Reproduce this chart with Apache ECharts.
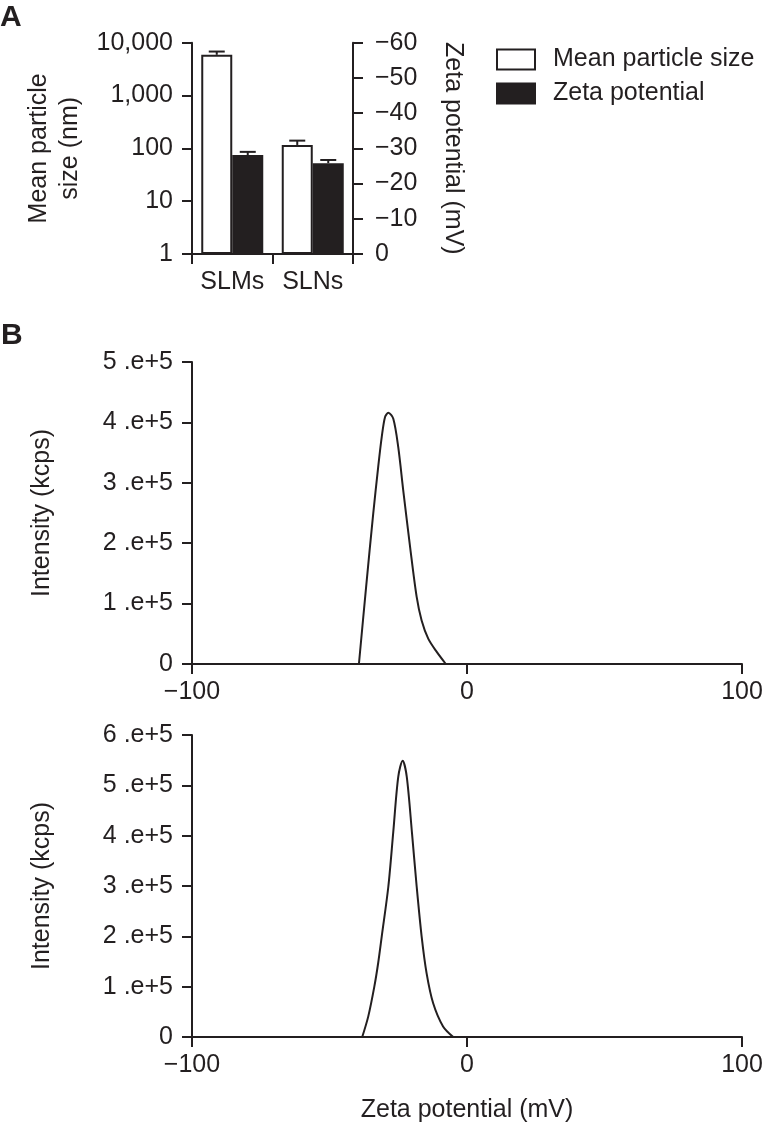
<!DOCTYPE html>
<html>
<head>
<meta charset="utf-8">
<script src="https://cdn.jsdelivr.net/npm/echarts@6/dist/echarts.min.js"></script>
<style>
html,body{margin:0;padding:0;background:#fff;}
#chart{width:766px;height:1132px;}
</style>
</head>
<body>
<div id="chart"></div>
<script>
// ---- Panel A data ----
const categories = ['SLMs', 'SLNs'];
const sizeMean = [5900, 116];          // nm
const sizeUpper = [6800, 140];         // top of error bar, nm
const zetaMean = [-28.1, -25.8];       // mV
const zetaUpper = [-29.0, -26.7];      // top of error bar, mV
const seriesNames = ['Mean particle size', 'Zeta potential'];

// ---- Panel B data ----
const zeta1 = [-39.3, -36.7, -34.1, -32.3, -31.0, -29.8, -28.6, -26.8, -25.0, -23.2, -20.7, -18.3, -16.5, -14.1, -11.0, -7.7];
const intensity1 = [0, 127000, 249000, 326000, 376000, 409000, 416000, 406000, 359000, 288000, 194000, 111000, 72000, 42000, 20000, 0];
const zeta2 = [-38.1, -35.9, -33.7, -32.3, -31.0, -28.6, -26.8, -25.0, -23.4, -21.9, -20.0, -18.3, -16.5, -14.7, -12.3, -8.7, -5.0];
const intensity2 = [0, 41000, 100000, 147000, 200000, 299000, 408000, 517000, 549000, 517000, 405000, 299000, 200000, 127000, 67000, 21000, 0];

const C = '#231f20';
const FONT = '"Liberation Sans", Arial, sans-serif';
const FS = 25;
const BARW = 31;

function pairs(xs, ys) { return xs.map((x, i) => [x, ys[i]]); }

function errRender(side) {
  return function (params, api) {
    const i = api.value(0);
    const p0 = api.coord([i, api.value(1)]);
    const p1 = api.coord([i, api.value(2)]);
    const x = p0[0] + side * BARW / 2;
    const st = { stroke: C, lineWidth: 2 };
    return {
      type: 'group',
      children: [
        { type: 'line', shape: { x1: x, y1: p0[1], x2: x, y2: p1[1] }, style: st },
        { type: 'line', shape: { x1: x - 8, y1: p1[1], x2: x + 8, y2: p1[1] }, style: st }
      ]
    };
  };
}

const axisLine = { show: true, onZero: false, lineStyle: { color: C, width: 2 } };
const axisTick = { show: true, length: 10, lineStyle: { color: C, width: 2 } };
const lbl = (extra) => Object.assign({ color: C, fontSize: FS, fontFamily: FONT }, extra);
const nameStyle = { color: C, fontSize: FS, fontFamily: FONT, lineHeight: 31 };
const minus = v => (v < 0 ? '\u2212' + Math.abs(v) : String(v));
const sci = v => (v === 0 ? '0' : (v / 100000) + ' .e+5');

const chart = echarts.init(document.getElementById('chart'), null, { renderer: 'canvas' });
chart.setOption({
  backgroundColor: '#fff',
  animation: false,
  textStyle: { fontFamily: FONT },
  graphic: [
    { type: 'text', left: 0, top: 3, style: { text: 'A', fill: C, font: 'bold 30px ' + FONT } },
    { type: 'text', left: 1, top: 321, style: { text: 'B', fill: C, font: 'bold 30px ' + FONT } }
  ],
  legend: {
    left: 491, top: 42, orient: 'vertical', itemWidth: 38, itemHeight: 20, itemGap: 9,
    icon: 'rect', data: seriesNames,
    textStyle: { color: C, fontSize: FS, fontFamily: FONT, padding: [0, 0, 0, 13] }
  },
  grid: [
    { left: 192, top: 42.7, width: 161, height: 211.3 },
    { left: 192, top: 362, width: 550, height: 302 },
    { left: 192, top: 735, width: 550, height: 302 }
  ],
  xAxis: [
    { gridIndex: 0, type: 'category', data: categories, axisLine, axisTick,
      axisLabel: lbl({ margin: 16, interval: 0, hideOverlap: false }) },
    { gridIndex: 1, type: 'value', min: -100, max: 100, interval: 100, splitLine: { show: false },
      axisLine, axisTick, axisLabel: lbl({ margin: 16, formatter: minus }) },
    { gridIndex: 2, type: 'value', min: -100, max: 100, interval: 100, splitLine: { show: false },
      axisLine, axisTick, axisLabel: lbl({ margin: 16, formatter: minus }),
      name: 'Zeta potential (mV)', nameLocation: 'middle', nameGap: 58, nameTextStyle: nameStyle }
  ],
  yAxis: [
    { gridIndex: 0, type: 'log', logBase: 10, min: 1, max: 10000, position: 'left', splitLine: { show: false },
      axisLine, axisTick, minorTick: { show: false },
      axisLabel: lbl({ margin: 19, formatter: v => Number(v).toLocaleString('en-US') }),
      name: 'Mean particle\nsize (nm)', nameLocation: 'middle', nameGap: 106, nameTextStyle: nameStyle },
    { gridIndex: 0, type: 'value', min: -60, max: 0, interval: 10, inverse: true, position: 'right', splitLine: { show: false },
      axisLine, axisTick, axisLabel: lbl({ margin: 22, formatter: minus }),
      name: 'Zeta potential (mV)', nameLocation: 'middle', nameRotate: -90, nameGap: 84, nameTextStyle: nameStyle },
    { gridIndex: 1, type: 'value', min: 0, max: 500000, interval: 100000, splitLine: { show: false },
      axisLine, axisTick, axisLabel: lbl({ margin: 19, formatter: sci }),
      name: 'Intensity (kcps)', nameLocation: 'middle', nameGap: 134, nameTextStyle: nameStyle },
    { gridIndex: 2, type: 'value', min: 0, max: 600000, interval: 100000, splitLine: { show: false },
      axisLine, axisTick, axisLabel: lbl({ margin: 19, formatter: sci }),
      name: 'Intensity (kcps)', nameLocation: 'middle', nameGap: 134, nameTextStyle: nameStyle }
  ],
  series: [
    { name: seriesNames[0], type: 'bar', xAxisIndex: 0, yAxisIndex: 0, data: sizeMean, barWidth: BARW, barGap: '0%',
      itemStyle: { color: '#fff', borderColor: C, borderWidth: 2 } },
    { name: seriesNames[1], type: 'bar', xAxisIndex: 0, yAxisIndex: 1, data: zetaMean, barWidth: BARW, barGap: '0%',
      itemStyle: { color: C, borderColor: C, borderWidth: 2 } },
    { type: 'custom', xAxisIndex: 0, yAxisIndex: 0, renderItem: errRender(-1),
      data: categories.map((c, i) => [i, sizeMean[i], sizeUpper[i]]), encode: { x: 0, y: [1, 2] }, z: 3 },
    { type: 'custom', xAxisIndex: 0, yAxisIndex: 1, renderItem: errRender(1),
      data: categories.map((c, i) => [i, zetaMean[i], zetaUpper[i]]), encode: { x: 0, y: [1, 2] }, z: 3 },
    { type: 'line', xAxisIndex: 1, yAxisIndex: 2, data: pairs(zeta1, intensity1), showSymbol: false, smooth: 0.3,
      lineStyle: { color: C, width: 2 } },
    { type: 'line', xAxisIndex: 2, yAxisIndex: 3, data: pairs(zeta2, intensity2), showSymbol: false, smooth: 0.3,
      lineStyle: { color: C, width: 2 } }
  ]
});
</script>
</body>
</html>
